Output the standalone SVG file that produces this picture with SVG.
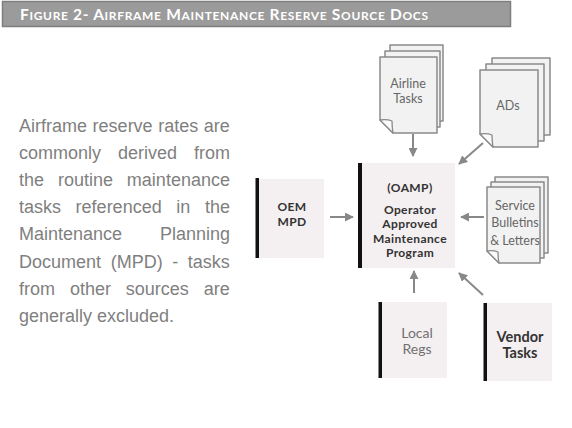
<svg xmlns="http://www.w3.org/2000/svg" width="572" height="428" viewBox="0 0 572 428">
<style>
.title{font-family:Lato,"Open Sans","Liberation Sans",sans-serif;font-weight:bold;fill:#ffffff}
.para{font-family:"Liberation Sans",Arial,sans-serif;font-size:18px;fill:#7f7f7f}
.page{fill:#f2f2f2;stroke:#8a8a8a;stroke-width:1.5;stroke-linejoin:round}
.flap{fill:#fbfbfb;stroke:#8a8a8a;stroke-width:1.3;stroke-linejoin:round}
.box{fill:#f4eff0}
.bar{fill:#111111}
.lbl{font-family:Lato,"Open Sans","Liberation Sans",sans-serif;text-anchor:middle}
.doc{font-size:12.5px;fill:#666666}
.bold{font-weight:bold;fill:#333333}
.tight{font-size:12px;letter-spacing:0.4px}
.conn{stroke:#888888;stroke-width:2;fill:none}
</style>
<defs>
<marker id="ah" viewBox="0 0 10 10" refX="9" refY="5" markerWidth="4.5" markerHeight="4.5" orient="auto" markerUnits="strokeWidth">
<path d="M0,0 L10,5 L0,10 Z" fill="#888888"/>
</marker>
</defs>
<rect width="572" height="428" fill="#ffffff"/>
<g id="title">
<rect x="2.5" y="1.5" width="508" height="25" fill="#9b9b9b" stroke="#7e7e7e" stroke-width="1.5"/>
<text class="title" x="20" y="19.5" textLength="408" lengthAdjust="spacing"><tspan font-size="15.5">F</tspan><tspan font-size="12">IGURE</tspan><tspan font-size="15.5"> 2- A</tspan><tspan font-size="12">IRFRAME</tspan><tspan font-size="15.5"> M</tspan><tspan font-size="12">AINTENANCE</tspan><tspan font-size="15.5"> R</tspan><tspan font-size="12">ESERVE</tspan><tspan font-size="15.5"> S</tspan><tspan font-size="12">OURCE</tspan><tspan font-size="15.5"> D</tspan><tspan font-size="12">OCS</tspan></text>
</g>
<g id="paragraph" class="para">
<text x="19" y="131.5" word-spacing="0.6">Airframe reserve rates are</text>
<text x="19" y="158.7" word-spacing="12">commonly derived from</text>
<text x="19" y="185.9" word-spacing="8.9">the routine maintenance</text>
<text x="19" y="213.1" word-spacing="9.6">tasks referenced in the</text>
<text x="19" y="240.3" word-spacing="32.9">Maintenance Planning</text>
<text x="19" y="267.5" word-spacing="4.6">Document (MPD) - tasks</text>
<text x="19" y="294.7" word-spacing="9.9">from other sources are</text>
<text x="19" y="321.9">generally excluded.</text>
</g>
<g id="airline-tasks">
<path class="page" d="M390,45 H443 V121 H403 L390,108 Z"/>
<path class="page" d="M385,51 H440 V127 H398 L385,114 Z"/>
<path class="page" d="M380,57 H437 V133 H393 L380,120 Z"/>
<path class="flap" d="M380,120 Q387,119 392,121 Q392,127 393,133 Z"/>
<text class="lbl doc" x="408" y="88">Airline</text>
<text class="lbl doc" x="408" y="103">Tasks</text>
</g>
<g id="ads">
<path class="page" d="M492,58 H550 V135 H505 L492,122 Z"/>
<path class="page" d="M486,64 H544 V141 H499 L486,128 Z"/>
<path class="page" d="M480,70 H538 V147 H493 L480,134 Z"/>
<path class="flap" d="M480,134 Q487,133 492,135 Q492,141 493,147 Z"/>
<text class="lbl doc" x="508" y="110">ADs</text>
</g>
<g id="service-bulletins">
<path class="page" d="M495,177 H548 V253 H507 L495,241 Z"/>
<path class="page" d="M491,182 H544 V258 H503 L491,246 Z"/>
<path class="page" d="M487,187 H540 V263 H499 L487,251 Z"/>
<path class="flap" d="M487,251 Q493,250 498,252 Q498,258 499,263 Z"/>
<text class="lbl doc" x="515" y="210" font-size="13">Service</text>
<text class="lbl doc" x="515" y="227" font-size="13">Bulletins</text>
<text class="lbl doc" x="515" y="245" font-size="13">&amp; Letters</text>
</g>
<g id="oem-mpd">
<rect class="box" x="259" y="179" width="65" height="79"/>
<rect class="bar" x="255.5" y="178" width="3.5" height="80"/>
<text class="lbl bold tight" x="292" y="211">OEM</text>
<text class="lbl bold tight" x="292" y="225.5">MPD</text>
</g>
<g id="oamp">
<rect class="box" x="362" y="163" width="93" height="105"/>
<rect class="bar" x="358" y="163" width="4" height="105"/>
<text class="lbl bold tight" x="410" y="192">(OAMP)</text>
<text class="lbl bold tight" x="410" y="213.5">Operator</text>
<text class="lbl bold tight" x="410" y="228">Approved</text>
<text class="lbl bold tight" x="410" y="242.5">Maintenance</text>
<text class="lbl bold tight" x="410" y="257">Program</text>
</g>
<g id="local-regs">
<rect class="box" x="382" y="302" width="65" height="76"/>
<rect class="bar" x="378.5" y="302" width="3.5" height="76"/>
<text class="lbl" x="417" y="338" font-size="14" fill="#707070">Local</text>
<text class="lbl" x="417" y="354" font-size="14" fill="#707070">Regs</text>
</g>
<g id="vendor-tasks">
<rect class="box" x="487" y="303" width="65" height="78"/>
<rect class="bar" x="483.5" y="303" width="3.5" height="78"/>
<text class="lbl bold" x="520" y="342" font-size="14.5">Vendor</text>
<text class="lbl bold" x="520" y="358" font-size="14.5">Tasks</text>
</g>
<g id="connectors">
<line class="conn" x1="413" y1="134" x2="413" y2="156" marker-end="url(#ah)"/>
<line class="conn" x1="483" y1="143" x2="459" y2="164" marker-end="url(#ah)"/>
<line class="conn" x1="330" y1="217" x2="353" y2="217" marker-end="url(#ah)"/>
<line class="conn" x1="484" y1="217" x2="461" y2="217" marker-end="url(#ah)"/>
<line class="conn" x1="414" y1="293" x2="414" y2="271" marker-end="url(#ah)"/>
<line class="conn" x1="483" y1="295" x2="459" y2="273" marker-end="url(#ah)"/>
</g>
</svg>
